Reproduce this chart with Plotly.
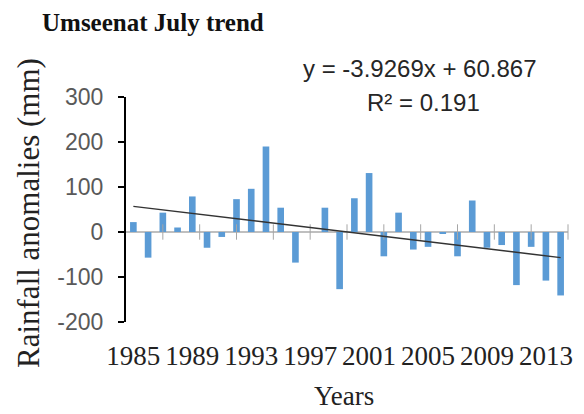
import numpy as np
import plotly.graph_objects as go

years = list(range(1985, 2015))
anomalies = [22, -57, 43, 10, 79, -35, -11, 73, 96, 190,
             54, -68, 0, 54, -127, 75, 131, -54, 43, -39,
             -33, -4, -54, 70, -35, -29, -118, -33, -108, -141]
slope = -3.9269
intercept = 60.867
r2 = 0.191
tick_years = [1985, 1989, 1993, 1997, 2001, 2005, 2009, 2013]
y_ticks = [-200, -100, 0, 100, 200, 300]

idx = np.arange(1, len(years) + 1)
trend = intercept + slope * idx

SERIF = "Liberation Serif, Times New Roman, serif"
SANS = "Liberation Sans, Arial, sans-serif"

# tick marks crossing the zero line, every 2.5 categories
cross_ticks = list(np.arange(years[0] - 0.5 + 2.5, years[-1] + 0.6, 2.5))

fig = go.Figure()
fig.add_trace(go.Bar(x=years, y=anomalies, width=0.45, marker_color="#5B9BD5",
                     marker_line_width=0, showlegend=False))
fig.add_trace(go.Scatter(x=cross_ticks, y=[0] * len(cross_ticks), mode="markers",
                         marker=dict(symbol="line-ns-open", size=11, color="#A6A6A6",
                                     line=dict(color="#A6A6A6", width=1)),
                         showlegend=False, hoverinfo="skip", cliponaxis=False))
fig.add_trace(go.Scatter(x=years, y=trend, mode="lines",
                         line=dict(color="#333333", width=1.5), showlegend=False))

fig.update_layout(
    width=584, height=414,
    margin=dict(l=126, r=16, t=97, b=92),
    paper_bgcolor="white", plot_bgcolor="white",
    title=dict(text="<b>Umseenat July trend</b>", x=42/584, xanchor="left",
               y=1 - 22/414, yanchor="middle",
               font=dict(family=SERIF, size=25, color="#111")),
    xaxis=dict(range=[years[0] - 0.5, years[-1] + 0.5], tickvals=tick_years,
               ticktext=[str(t) for t in tick_years], showgrid=False, zeroline=False,
               showline=False, ticks="outside", ticklen=10, tickcolor="rgba(0,0,0,0)",
               tickfont=dict(family=SERIF, size=27, color="#222")),
    yaxis=dict(range=[-200, 300], tickvals=y_ticks,
               ticktext=[str(v) for v in y_ticks], showgrid=False,
               zeroline=True, zerolinecolor="#BFBFBF", zerolinewidth=1.5,
               showline=True, linecolor="black", linewidth=2,
               ticks="outside", ticklen=6, tickwidth=2, tickcolor="black",
               ticklabelstandoff=10,
               tickfont=dict(family=SANS, size=23, color="#595959")),
    annotations=[
        dict(text=f"y = {slope}x + {intercept}", xref="paper", yref="paper",
             x=(420 - 126) / 442, y=1 + 29 / 225, xanchor="center", yanchor="middle",
             showarrow=False, font=dict(family=SANS, size=24, color="#262626")),
        dict(text=f"R² = {r2}", xref="paper", yref="paper",
             x=(423 - 126) / 442, y=1 - 6 / 225, xanchor="center", yanchor="middle",
             showarrow=False, font=dict(family=SANS, size=24, color="#262626")),
        dict(text="Rainfall anomalies (mm)", xref="paper", yref="paper",
             x=(28 - 126) / 442, y=(322 - 213) / 225, xanchor="center", yanchor="middle",
             textangle=-90, showarrow=False,
             font=dict(family=SERIF, size=31, color="#222")),
        dict(text="Years", xref="paper", yref="paper",
             x=(344 - 126) / 442, y=-(396 - 322) / 225, xanchor="center", yanchor="middle",
             showarrow=False, font=dict(family=SERIF, size=27, color="#222")),
    ],
)

fig.write_html("out.html")
